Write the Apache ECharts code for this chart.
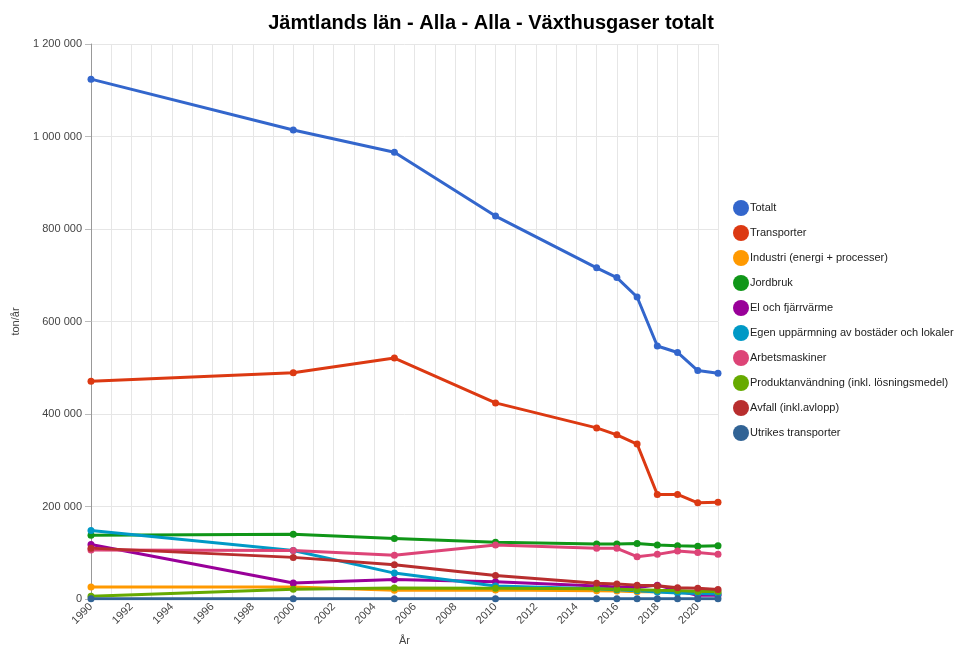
<!DOCTYPE html>
<html>
<head>
<meta charset="utf-8">
<script src="https://cdn.jsdelivr.net/npm/echarts@6/dist/echarts.min.js"></script>
<style>
    html, body { margin: 0; padding: 0; background: #fff; }
    #chart { width: 958px; height: 645px; }
</style>
</head>
<body>
<div id="chart"></div>
<script>
// alla år på axeln, mätpunkter bara vissa år
const axisYears = [];
for (let y = 1990; y <= 2021; y++) axisYears.push(String(y));
const years = [1990, 2000, 2005, 2010, 2015, 2016, 2017, 2018, 2019, 2020, 2021];

const totalt         = [1124000, 1014000, 966000, 828000, 716000, 695000, 653000, 547000, 533000, 494000, 488000];
const transporter    = [471000, 489000, 521000, 424000, 370000, 355000, 335000, 226000, 226000, 208000, 209000];
const industri       = [26000, 26000, 19000, 19500, 18000, 17500, 15800, 15500, 14400, 12000, 12000];
const jordbruk       = [138000, 140000, 131000, 122500, 119000, 119000, 120000, 117000, 115000, 114000, 115000];
const elFjarrvarme   = [118000, 34500, 42000, 37500, 28000, 26000, 25000, 30000, 18000, 8000, 8000];
const egenUppvarm    = [148000, 105000, 56000, 28000, 22000, 20000, 18000, 15000, 13000, 12000, 11000];
const arbetsmaskiner = [106000, 105000, 94500, 117000, 109500, 109500, 91500, 96500, 104000, 100500, 96500];
const produktanv     = [6000, 21000, 24000, 23000, 22000, 21000, 20000, 19000, 18500, 16000, 16000];
const avfall         = [110000, 90000, 74000, 51000, 34000, 32500, 30000, 28500, 24500, 23000, 20500];
const utrikes        = [500, 500, 500, 500, 500, 500, 500, 500, 500, 500, 500];

const yTicks = ['0', '200 000', '400 000', '600 000', '800 000', '1 000 000', '1 200 000'];

const seriesDefs = [
    { name: 'Totalt', values: totalt, color: '#3366cc' },
    { name: 'Transporter', values: transporter, color: '#dc3912' },
    { name: 'Industri (energi + processer)', values: industri, color: '#ff9900' },
    { name: 'Jordbruk', values: jordbruk, color: '#109618' },
    { name: 'El och fjärrvärme', values: elFjarrvarme, color: '#990099' },
    { name: 'Egen uppärmning av bostäder och lokaler', values: egenUppvarm, color: '#0099c6' },
    { name: 'Arbetsmaskiner', values: arbetsmaskiner, color: '#dd4477' },
    { name: 'Produktanvändning (inkl. lösningsmedel)', values: produktanv, color: '#66aa00' },
    { name: 'Avfall (inkl.avlopp)', values: avfall, color: '#b82e2e' },
    { name: 'Utrikes transporter', values: utrikes, color: '#316395' }
];

const chart = echarts.init(document.getElementById('chart'));

chart.setOption({
    animation: false,
    textStyle: { fontFamily: 'Liberation Sans, Arial, sans-serif' },
    title: {
        text: 'Jämtlands län - Alla - Alla - Växthusgaser totalt',
        left: 486, top: 8, textAlign: 'center',
        textStyle: { fontSize: 20, fontWeight: 'bold', color: '#000' }
    },
    legend: {
        orient: 'vertical',
        left: 728, top: 195,
        itemGap: 9,
        itemWidth: 16, itemHeight: 16,
        icon: 'circle',
        textStyle: { fontSize: 11, color: '#222', padding: [0, 0, 0, -4] },
        data: seriesDefs.map(s => s.name)
    },
    grid: { left: 91, right: 240, top: 44, bottom: 46, containLabel: false, outerBoundsMode: 'none' },
    xAxis: {
        type: 'category',
        data: axisYears,
        boundaryGap: false,
        name: 'År', nameLocation: 'middle', nameGap: 36,
        nameTextStyle: { fontSize: 11, color: '#444' },
        axisLine: { lineStyle: { color: '#888' } },
        axisTick: { show: false },
        axisLabel: { interval: 1, rotate: 45, fontSize: 11, color: '#444', margin: 6 },
        splitLine: { show: true, interval: 0, lineStyle: { color: '#e6e6e6' } }
    },
    yAxis: {
        type: 'value',
        min: 0, max: 1200000, interval: 200000,
        name: 'ton/år', nameLocation: 'middle', nameGap: 70,
        nameTextStyle: { fontSize: 11, color: '#444' },
        axisLine: { show: true, lineStyle: { color: '#999' } },
        axisTick: { show: true, length: 6, lineStyle: { color: '#bbb' } },
        axisLabel: { fontSize: 11, color: '#444', margin: 9, formatter: (v, i) => yTicks[i] },
        splitLine: { lineStyle: { color: '#e6e6e6' } }
    },
    series: seriesDefs.map(s => ({
        name: s.name,
        type: 'line',
        data: years.map((y, i) => [String(y), s.values[i]]),
        color: s.color,
        symbol: 'circle',
        symbolSize: 7,
        lineStyle: { width: 3 },
        emphasis: { disabled: true }
    }))
});
</script>
</body>
</html>
